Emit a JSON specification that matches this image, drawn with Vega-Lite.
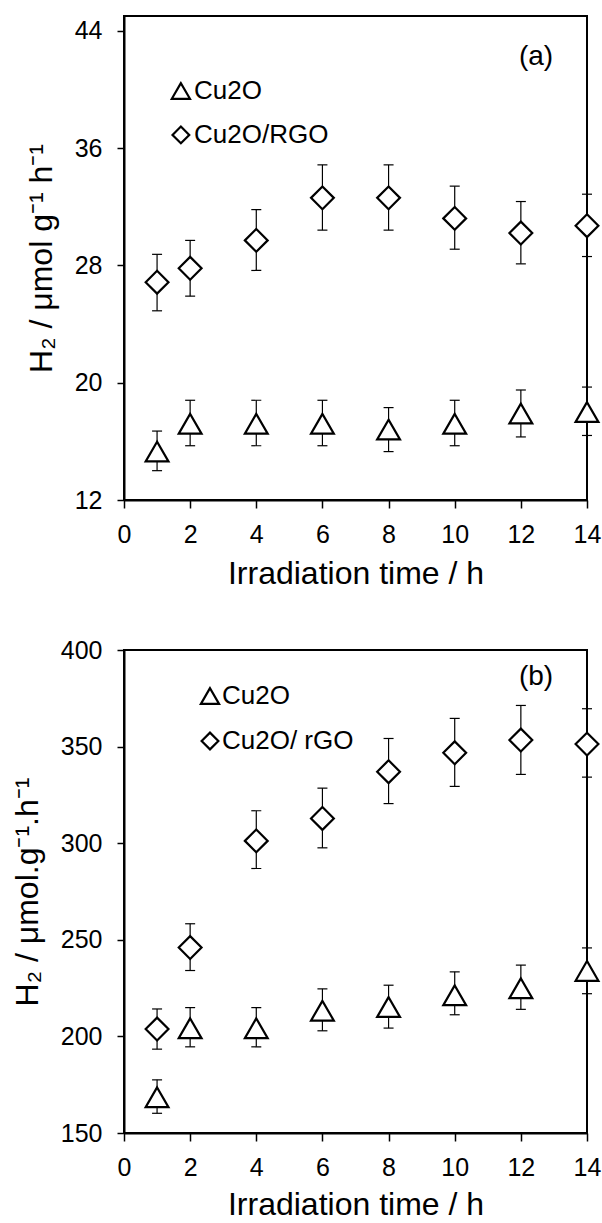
{
  "$schema": "https://vega.github.io/schema/vega-lite/v6.json",
  "padding": {"left": 10, "top": 15, "right": 0, "bottom": 0},
  "background": "white",
  "spacing": 47,
  "config": {
    "font": "Liberation Sans",
    "view": {"stroke": "black", "strokeWidth": 2},
    "axis": {"grid": false, "domainColor": "black", "domainWidth": 2, "tickColor": "black", "tickWidth": 1.5, "labelColor": "black", "titleColor": "black", "labelFontSize": 25, "titleFontSize": 32, "titleFontWeight": "normal", "labelFont": "Liberation Sans", "titleFont": "Liberation Sans", "labelFlush": false},
    "axisX": {"tickSize": 8, "labelPadding": 14, "titlePadding": 11},
    "axisY": {"tickSize": 7, "labelPadding": 15, "titlePadding": 16}
  },
  "datasets": {
    "a": [
      {"t": 1, "s": "Cu2O", "v": 15.3, "lo": 14.0, "hi": 16.7},
      {"t": 2, "s": "Cu2O", "v": 17.2, "lo": 15.7, "hi": 18.8},
      {"t": 4, "s": "Cu2O", "v": 17.2, "lo": 15.7, "hi": 18.8},
      {"t": 6, "s": "Cu2O", "v": 17.2, "lo": 15.7, "hi": 18.8},
      {"t": 8, "s": "Cu2O", "v": 16.8, "lo": 15.3, "hi": 18.3},
      {"t": 10, "s": "Cu2O", "v": 17.2, "lo": 15.7, "hi": 18.8},
      {"t": 12, "s": "Cu2O", "v": 17.9, "lo": 16.3, "hi": 19.5},
      {"t": 14, "s": "Cu2O", "v": 18.0, "lo": 16.4, "hi": 19.7},
      {"t": 1, "s": "Cu2O/RGO", "v": 26.85, "lo": 24.9, "hi": 28.75},
      {"t": 2, "s": "Cu2O/RGO", "v": 27.8, "lo": 25.9, "hi": 29.7},
      {"t": 4, "s": "Cu2O/RGO", "v": 29.7, "lo": 27.65, "hi": 31.8},
      {"t": 6, "s": "Cu2O/RGO", "v": 32.6, "lo": 30.4, "hi": 34.85},
      {"t": 8, "s": "Cu2O/RGO", "v": 32.6, "lo": 30.4, "hi": 34.85},
      {"t": 10, "s": "Cu2O/RGO", "v": 31.2, "lo": 29.1, "hi": 33.4},
      {"t": 12, "s": "Cu2O/RGO", "v": 30.2, "lo": 28.1, "hi": 32.35},
      {"t": 14, "s": "Cu2O/RGO", "v": 30.7, "lo": 28.6, "hi": 32.85}
    ],
    "b": [
      {"t": 1, "s": "Cu2O", "v": 168.5, "lo": 160.2, "hi": 177.5},
      {"t": 2, "s": "Cu2O", "v": 204.2, "lo": 194.6, "hi": 214.9},
      {"t": 4, "s": "Cu2O", "v": 204.2, "lo": 194.6, "hi": 214.9},
      {"t": 6, "s": "Cu2O", "v": 213.3, "lo": 202.9, "hi": 224.6},
      {"t": 8, "s": "Cu2O", "v": 215.2, "lo": 204.3, "hi": 226.5},
      {"t": 10, "s": "Cu2O", "v": 221.3, "lo": 211.2, "hi": 233.4},
      {"t": 12, "s": "Cu2O", "v": 224.9, "lo": 214.0, "hi": 236.9},
      {"t": 14, "s": "Cu2O", "v": 233.9, "lo": 222.1, "hi": 245.8},
      {"t": 1, "s": "Cu2O/ rGO", "v": 203.8, "lo": 193.4, "hi": 214.2},
      {"t": 2, "s": "Cu2O/ rGO", "v": 246.0, "lo": 234.1, "hi": 258.3},
      {"t": 4, "s": "Cu2O/ rGO", "v": 301.2, "lo": 286.9, "hi": 316.8},
      {"t": 6, "s": "Cu2O/ rGO", "v": 312.8, "lo": 297.6, "hi": 328.5},
      {"t": 8, "s": "Cu2O/ rGO", "v": 337.0, "lo": 320.5, "hi": 354.2},
      {"t": 10, "s": "Cu2O/ rGO", "v": 346.8, "lo": 329.4, "hi": 364.6},
      {"t": 12, "s": "Cu2O/ rGO", "v": 353.4, "lo": 335.6, "hi": 371.3},
      {"t": 14, "s": "Cu2O/ rGO", "v": 351.3, "lo": 334.2, "hi": 369.6}
    ]
  },
  "resolve": {"scale": {"y": "independent", "shape": "independent"}},
  "vconcat": [
    {
      "width": 463,
      "height": 484,
      "data": {"name": "a"},
      "encoding": {
        "x": {"field": "t", "type": "quantitative", "scale": {"domain": [0, 14], "nice": false}, "axis": {"values": [0, 2, 4, 6, 8, 10, 12, 14], "title": "Irradiation time / h"}}
      },
      "layer": [
        {
          "mark": {"type": "rule", "color": "black", "strokeWidth": 1.2},
          "encoding": {
            "y": {"field": "lo", "type": "quantitative", "scale": {"domain": [12, 45], "nice": false, "zero": false}, "axis": {"values": [12, 20, 28, 36, 44], "title": "H₂ / μmol g⁻¹ h⁻¹"}},
            "y2": {"field": "hi"}
          }
        },
        {
          "mark": {"type": "tick", "orient": "horizontal", "color": "black", "size": 10, "thickness": 1.2, "opacity": 1},
          "encoding": {
            "y": {"field": "lo", "type": "quantitative", "scale": {"domain": [12, 45], "nice": false, "zero": false}, "axis": {"values": [12, 20, 28, 36, 44], "title": "H₂ / μmol g⁻¹ h⁻¹"}}
          }
        },
        {
          "mark": {"type": "tick", "orient": "horizontal", "color": "black", "size": 10, "thickness": 1.2, "opacity": 1},
          "encoding": {
            "y": {"field": "hi", "type": "quantitative", "scale": {"domain": [12, 45], "nice": false, "zero": false}, "axis": {"values": [12, 20, 28, 36, 44], "title": "H₂ / μmol g⁻¹ h⁻¹"}}
          }
        },
        {
          "mark": {"type": "point", "filled": true, "fill": "white", "stroke": "black", "strokeWidth": 2.2, "size": 520, "opacity": 1},
          "encoding": {
            "y": {"field": "v", "type": "quantitative", "scale": {"domain": [12, 45], "nice": false, "zero": false}, "axis": {"values": [12, 20, 28, 36, 44], "title": "H₂ / μmol g⁻¹ h⁻¹"}},
            "shape": {"field": "s", "type": "nominal", "scale": {"domain": ["Cu2O", "Cu2O/RGO"], "range": ["triangle-up", "diamond"]}, "legend": null}
          }
        },
        {
          "transform": [{"filter": "datum.t == 1 && datum.s == 'Cu2O'"}],
          "mark": {"type": "point", "filled": true, "fill": "white", "stroke": "black", "strokeWidth": 2.2, "size": 330, "opacity": 1},
          "encoding": {
            "x": {"datum": 1.72},
            "y": {"datum": 39.89},
            "shape": {"field": "s", "type": "nominal", "scale": {"domain": ["Cu2O", "Cu2O/RGO"], "range": ["triangle-up", "diamond"]}, "legend": null}
          }
        },
        {
          "transform": [{"filter": "datum.t == 1 && datum.s == 'Cu2O/RGO'"}],
          "mark": {"type": "point", "filled": true, "fill": "white", "stroke": "black", "strokeWidth": 2.2, "size": 280, "opacity": 1},
          "encoding": {
            "x": {"datum": 1.72},
            "y": {"datum": 36.89},
            "shape": {"field": "s", "type": "nominal", "scale": {"domain": ["Cu2O", "Cu2O/RGO"], "range": ["triangle-up", "diamond"]}, "legend": null}
          }
        },
        {
          "transform": [{"filter": "datum.t == 1 && datum.s == 'Cu2O'"}],
          "mark": {"type": "text", "fontSize": 26, "font": "Liberation Sans", "fontWeight": "normal", "color": "black", "align": "left", "baseline": "middle"},
          "encoding": {
            "x": {"datum": 2.117},
            "y": {"datum": 39.89},
            "text": {"field": "s"}
          }
        },
        {
          "transform": [{"filter": "datum.t == 1 && datum.s == 'Cu2O/RGO'"}],
          "mark": {"type": "text", "fontSize": 26, "font": "Liberation Sans", "fontWeight": "normal", "color": "black", "align": "left", "baseline": "middle"},
          "encoding": {
            "x": {"datum": 2.117},
            "y": {"datum": 36.89},
            "text": {"field": "s"}
          }
        },
        {
          "transform": [{"filter": "datum.t == 1 && datum.s == 'Cu2O'"}],
          "mark": {"type": "text", "fontSize": 28, "font": "Liberation Sans", "fontWeight": "normal", "color": "black"},
          "encoding": {
            "x": {"datum": 12.46},
            "y": {"datum": 42.2},
            "text": {"value": "(a)"}
          }
        }
      ]
    },
    {
      "width": 463,
      "height": 483,
      "data": {"name": "b"},
      "encoding": {
        "x": {"field": "t", "type": "quantitative", "scale": {"domain": [0, 14], "nice": false}, "axis": {"values": [0, 2, 4, 6, 8, 10, 12, 14], "title": "Irradiation time / h", "titlePadding": 9}}
      },
      "layer": [
        {
          "mark": {"type": "rule", "color": "black", "strokeWidth": 1.2},
          "encoding": {
            "y": {"field": "lo", "type": "quantitative", "scale": {"domain": [150, 400], "nice": false, "zero": false}, "axis": {"values": [150, 200, 250, 300, 350, 400], "title": "H₂ / μmol.g⁻¹.h⁻¹"}},
            "y2": {"field": "hi"}
          }
        },
        {
          "mark": {"type": "tick", "orient": "horizontal", "color": "black", "size": 10, "thickness": 1.2, "opacity": 1},
          "encoding": {
            "y": {"field": "lo", "type": "quantitative", "scale": {"domain": [150, 400], "nice": false, "zero": false}, "axis": {"values": [150, 200, 250, 300, 350, 400], "title": "H₂ / μmol.g⁻¹.h⁻¹"}}
          }
        },
        {
          "mark": {"type": "tick", "orient": "horizontal", "color": "black", "size": 10, "thickness": 1.2, "opacity": 1},
          "encoding": {
            "y": {"field": "hi", "type": "quantitative", "scale": {"domain": [150, 400], "nice": false, "zero": false}, "axis": {"values": [150, 200, 250, 300, 350, 400], "title": "H₂ / μmol.g⁻¹.h⁻¹"}}
          }
        },
        {
          "mark": {"type": "point", "filled": true, "fill": "white", "stroke": "black", "strokeWidth": 2.2, "size": 520, "opacity": 1},
          "encoding": {
            "y": {"field": "v", "type": "quantitative", "scale": {"domain": [150, 400], "nice": false, "zero": false}, "axis": {"values": [150, 200, 250, 300, 350, 400], "title": "H₂ / μmol.g⁻¹.h⁻¹"}},
            "shape": {"field": "s", "type": "nominal", "scale": {"domain": ["Cu2O", "Cu2O/ rGO"], "range": ["triangle-up", "diamond"]}, "legend": null}
          }
        },
        {
          "transform": [{"filter": "datum.t == 1 && datum.s == 'Cu2O'"}],
          "mark": {"type": "point", "filled": true, "fill": "white", "stroke": "black", "strokeWidth": 2.2, "size": 330, "opacity": 1},
          "encoding": {
            "x": {"datum": 2.6},
            "y": {"datum": 376.2},
            "shape": {"field": "s", "type": "nominal", "scale": {"domain": ["Cu2O", "Cu2O/ rGO"], "range": ["triangle-up", "diamond"]}, "legend": null}
          }
        },
        {
          "transform": [{"filter": "datum.t == 1 && datum.s == 'Cu2O/ rGO'"}],
          "mark": {"type": "point", "filled": true, "fill": "white", "stroke": "black", "strokeWidth": 2.2, "size": 280, "opacity": 1},
          "encoding": {
            "x": {"datum": 2.6},
            "y": {"datum": 352.9},
            "shape": {"field": "s", "type": "nominal", "scale": {"domain": ["Cu2O", "Cu2O/ rGO"], "range": ["triangle-up", "diamond"]}, "legend": null}
          }
        },
        {
          "transform": [{"filter": "datum.t == 1 && datum.s == 'Cu2O'"}],
          "mark": {"type": "text", "fontSize": 26, "font": "Liberation Sans", "fontWeight": "normal", "color": "black", "align": "left", "baseline": "middle"},
          "encoding": {
            "x": {"datum": 2.963},
            "y": {"datum": 376.2},
            "text": {"field": "s"}
          }
        },
        {
          "transform": [{"filter": "datum.t == 1 && datum.s == 'Cu2O/ rGO'"}],
          "mark": {"type": "text", "fontSize": 26, "font": "Liberation Sans", "fontWeight": "normal", "color": "black", "align": "left", "baseline": "middle"},
          "encoding": {
            "x": {"datum": 2.963},
            "y": {"datum": 352.9},
            "text": {"field": "s"}
          }
        },
        {
          "transform": [{"filter": "datum.t == 1 && datum.s == 'Cu2O'"}],
          "mark": {"type": "text", "fontSize": 28, "font": "Liberation Sans", "fontWeight": "normal", "color": "black"},
          "encoding": {
            "x": {"datum": 12.46},
            "y": {"datum": 386},
            "text": {"value": "(b)"}
          }
        }
      ]
    }
  ]
}
